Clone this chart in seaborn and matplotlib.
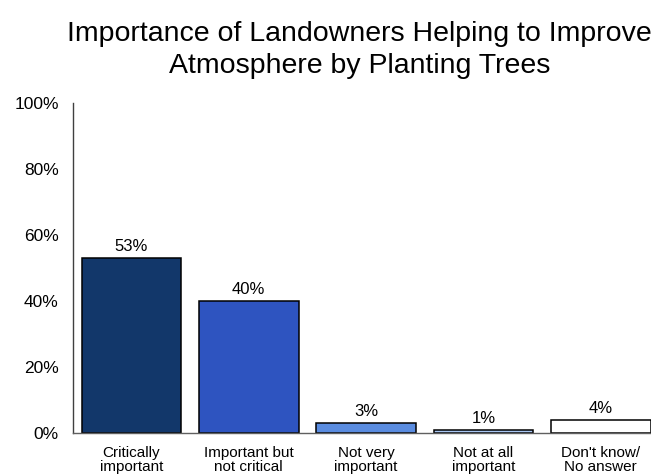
import matplotlib
matplotlib.use("Agg")
import matplotlib.pyplot as plt
import seaborn as sns
import pandas as pd
from matplotlib.ticker import PercentFormatter

categories = ["Critically\nimportant", "Important but\nnot critical", "Not very\nimportant",
              "Not at all\nimportant", "Don't know/\nNo answer"]
shares = [53, 40, 3, 1, 4]
bar_colors = ["#12376A", "#2E54C0", "#5A8CE0", "#A9C6F2", "#FFFFFF"]
title = "Importance of Landowners Helping to Improve\nAtmosphere by Planting Trees"

sns.set_style("white")
plt.rcParams["font.family"] = ["Liberation Sans", "DejaVu Sans"]
plt.rcParams["text.color"] = "black"
plt.rcParams["xtick.color"] = "black"
plt.rcParams["ytick.color"] = "black"

df = pd.DataFrame({"category": categories, "share": shares})

fig = plt.figure(figsize=(6.51, 4.76), dpi=100)
ax = fig.add_axes([0.1117, 0.0903, 0.9013, 0.6923])

sns.barplot(data=df, x="category", y="share", hue="category",
            palette=bar_colors, saturation=1, legend=False, width=0.85,
            edgecolor="black", linewidth=1.1, ax=ax)

for container, v in zip(ax.containers, shares):
    ax.bar_label(container, labels=[f"{v}%"], padding=3, fontsize=12, color="black")

ax.set_ylim(0, 100)
ax.set_xlim(-0.5, 4.5)
ax.set_yticks(range(0, 101, 20))
ax.yaxis.set_major_formatter(PercentFormatter(100, decimals=0))
ax.tick_params(axis="y", labelsize=12.5, length=0, pad=10, labelcolor="black")
ax.tick_params(axis="x", labelsize=11, length=0, pad=9, labelcolor="black")
for lab in ax.get_xticklabels():
    lab.set_linespacing(1.0)
ax.set_xlabel("")
ax.set_ylabel("")

for side in ("top", "right"):
    ax.spines[side].set_visible(False)
ax.spines["left"].set_color("#404040")
ax.spines["bottom"].set_color("#606060")
ax.spines["left"].set_linewidth(1.0)
ax.spines["bottom"].set_linewidth(1.0)

fig.text(0.552, 0.955, title, ha="center", va="top", fontsize=20.5, linespacing=1.3,
         color="black")

fig.savefig("out.png", dpi=100)
